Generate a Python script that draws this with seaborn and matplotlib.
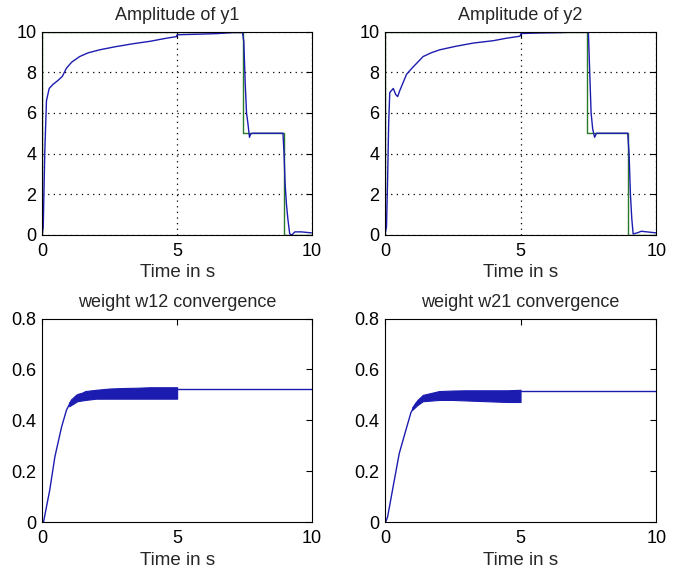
import numpy as np
import pandas as pd
import matplotlib
matplotlib.use("Agg")
import matplotlib.pyplot as plt
import seaborn as sns

# ----------------------------------------------------
# data
# ----------------------------------------------------

# reference (green) step signal, same for y1 and y2
t_ref = [0, 0, 7.45, 7.45, 8.95, 8.95, 10]
ref = [0, 10, 10, 5, 5, 0, 0]

# y1 response (blue)
t_y1 = [0, 0.04, 0.1, 0.16, 0.26, 0.4, 0.59, 0.75, 0.9, 1.1, 1.39, 1.7, 2.13, 2.7,
        3.37, 4.0, 4.6, 4.97, 5.0, 5.84, 6.5, 7.07, 7.42, 7.47, 7.52, 7.57, 7.62,
        7.68, 7.72, 7.78, 7.9, 8.5, 8.92, 8.96, 9.0, 9.05, 9.1, 9.17, 9.25, 9.36,
        9.6, 9.98]
y1 = [0, 0.4, 4.2, 6.6, 7.2, 7.4, 7.6, 7.8, 8.2, 8.5, 8.77, 8.95, 9.1, 9.25,
      9.4, 9.52, 9.67, 9.75, 9.84, 9.87, 9.9, 9.95, 9.95, 9.5, 7.5, 6.0, 5.5,
      4.8, 4.95, 5.0, 5.0, 5.0, 5.0, 4.0, 2.5, 1.5, 0.8, 0.05, 0.0, 0.15,
      0.15, 0.1]

# y2 response (blue)
t_y2 = [0, 0.06, 0.1, 0.14, 0.18, 0.31, 0.4, 0.47, 0.55, 0.8, 1.0, 1.41, 1.7,
        2.02, 2.6, 3.25, 4.0, 4.48, 4.98, 5.02, 5.7, 6.5, 7.42, 7.5, 7.55, 7.6,
        7.66, 7.73, 7.8, 7.9, 8.5, 8.95, 9.0, 9.05, 9.1, 9.15, 9.3, 9.45, 10]
y2 = [0, 0.4, 2.7, 5.5, 7.0, 7.2, 6.9, 6.8, 7.1, 7.9, 8.2, 8.77, 8.95,
      9.1, 9.27, 9.43, 9.55, 9.67, 9.77, 9.9, 9.93, 9.95, 10, 10, 8.0, 6.0,
      5.2, 4.8, 5.0, 5.0, 5.0, 5.0, 4.0, 2.0, 0.8, 0.05, 0.1, 0.18, 0.1]

# weight w12: ramp, oscillating band, then constant
t_w12 = [0, 0.05, 0.28, 0.47, 0.72, 0.9, 1.09, 1.3, 1.45]
w12 = [0, 0, 0.125, 0.256, 0.374, 0.44, 0.48, 0.5, 0.505]
t_w12_band = [1.0, 1.3, 1.6, 2.0, 2.5, 3.0, 3.5, 4.0, 4.5, 5.0]
w12_low = [0.455, 0.475, 0.48, 0.485, 0.485, 0.485, 0.485, 0.485, 0.485, 0.485]
w12_high = [0.47, 0.50, 0.515, 0.52, 0.525, 0.527, 0.528, 0.53, 0.53, 0.53]
t_w12_end = [5.0, 10]
w12_end = [0.525, 0.525]

# weight w21
t_w21 = [0, 0.03, 0.1, 0.28, 0.53, 0.77, 0.96, 1.14, 1.39]
w21 = [0, 0, 0.02, 0.125, 0.27, 0.36, 0.43, 0.466, 0.49]
t_w21_band = [1.0, 1.2, 1.4, 2.0, 2.5, 3.0, 3.5, 4.0, 4.5, 5.0]
w21_low = [0.44, 0.46, 0.475, 0.48, 0.48, 0.478, 0.476, 0.474, 0.472, 0.472]
w21_high = [0.45, 0.48, 0.50, 0.515, 0.517, 0.518, 0.518, 0.518, 0.518, 0.52]
t_w21_end = [5.0, 10]
w21_end = [0.515, 0.515]

x_ticks = [0, 5, 10]
x_labels = ['0', '5', '10']
amp_ticks = [0, 2, 4, 6, 8, 10]
amp_labels = ['0', '2', '4', '6', '8', '10']
w_ticks = [0, 0.2, 0.4, 0.6, 0.8]
w_labels = ['0', '0.2', '0.4', '0.6', '0.8']

titles = ['Amplitude of y1', 'Amplitude of y2',
          'weight w12 convergence', 'weight w21 convergence']

# ----------------------------------------------------
# plot
# ----------------------------------------------------

sns.set_style("white")
plt.rcParams['font.family'] = ['Liberation Sans', 'DejaVu Sans']

blue = '#1c1cb0'
green = '#2a7a2a'

fig = plt.figure(figsize=(6.8, 5.73), dpi=100)
positions = [
    [0.062, 0.590, 0.397, 0.355],
    [0.566, 0.590, 0.399, 0.355],
    [0.062, 0.089, 0.397, 0.355],
    [0.566, 0.089, 0.399, 0.355],
]
axes = [fig.add_axes(p) for p in positions]


def style_axis(ax, yticks, ylabels, ymax, title, grid):
    ax.set_xlim(0, 10)
    ax.set_ylim(0, ymax)
    ax.set_xticks(x_ticks, x_labels)
    ax.set_yticks(yticks, ylabels)
    ax.tick_params(direction='in', length=4, width=0.8, top=True, right=True,
                   labelsize=13, colors='black')
    ax.tick_params(axis='x', pad=6)
    ax.tick_params(axis='y', pad=4)
    for s in ax.spines.values():
        s.set_color('black')
        s.set_linewidth(0.8)
    ax.set_title(title, fontsize=13, pad=8)
    ax.set_xlabel('Time in s', fontsize=13.5, labelpad=3)
    ax.set_ylabel('')
    if grid:
        ax.grid(True, linestyle=(0, (1, 3.5)), color='black', linewidth=0.9)
    else:
        ax.grid(False)


# amplitude plots
for ax, t, y, title in [(axes[0], t_y1, y1, titles[0]), (axes[1], t_y2, y2, titles[1])]:
    sns.lineplot(x=t_ref, y=ref, ax=ax, color=green, lw=1.0, estimator=None, sort=False)
    sns.lineplot(x=t, y=y, ax=ax, color=blue, lw=1.0, estimator=None, sort=False)
    style_axis(ax, amp_ticks, amp_labels, 10, title, True)

# weight plots
weights = [
    (axes[2], t_w12, w12, t_w12_band, w12_low, w12_high, t_w12_end, w12_end, titles[2]),
    (axes[3], t_w21, w21, t_w21_band, w21_low, w21_high, t_w21_end, w21_end, titles[3]),
]
for ax, t, w, tb, lo, hi, te, we, title in weights:
    sns.lineplot(x=t, y=w, ax=ax, color=blue, lw=1.0, estimator=None, sort=False)
    ax.fill_between(tb, lo, hi, color=blue, lw=0.8, edgecolor=blue)
    sns.lineplot(x=te, y=we, ax=ax, color=blue, lw=1.0, estimator=None, sort=False)
    style_axis(ax, w_ticks, w_labels, 0.8, title, False)

plt.savefig('out.png', dpi=100)
plt.close()
